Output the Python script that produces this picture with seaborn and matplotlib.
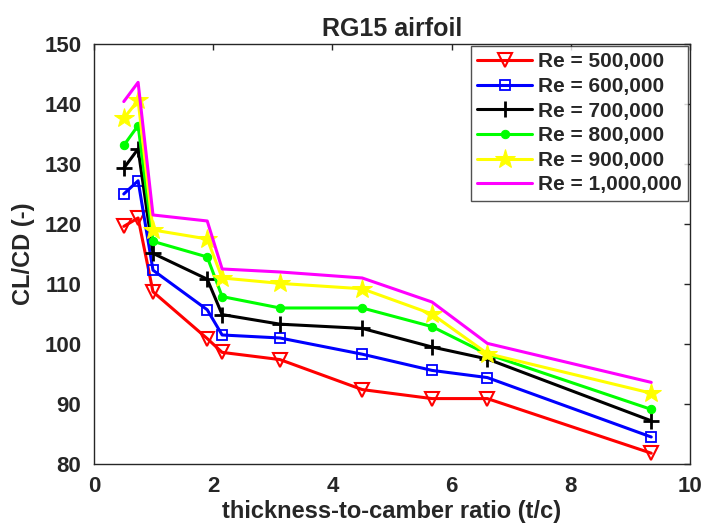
import pandas as pd
import seaborn as sns
import matplotlib.pyplot as plt

# thickness-to-camber ratio
tc = [0.5, 0.74, 0.99, 1.9, 2.15, 3.12, 4.5, 5.67, 6.6, 9.35]

# CL/CD por Reynolds
re_labels = ['Re = 500,000', 'Re = 600,000', 'Re = 700,000',
             'Re = 800,000', 'Re = 900,000', 'Re = 1,000,000']
re_500k = [119.6, 121.0, 108.7, 100.9, 98.6, 97.4, 92.4, 90.9, 90.9, 81.8]
re_600k = [125.0, 127.2, 112.3, 105.7, 101.5, 101.0, 98.3, 95.6, 94.4, 84.5]
re_700k = [129.3, 132.5, 115.1, 110.8, 104.9, 103.3, 102.6, 99.5, 97.5, 87.2]
re_800k = [133.1, 136.4, 117.1, 114.5, 107.9, 106.0, 106.0, 102.9, 98.3, 89.1]
re_900k = [137.6, 140.6, 119.0, 117.5, 111.0, 110.1, 109.2, 105.0, 98.4, 91.8]
re_1m = [140.4, 143.6, 121.5, 120.5, 112.5, 112.0, 111.0, 107.0, 100.1, 93.6]

series = [re_500k, re_600k, re_700k, re_800k, re_900k, re_1m]
cores = ['#ff0000', '#0000ff', '#000000', '#00ff00', '#ffff00', '#ff00ff']

rows = []
for lab, vals in zip(re_labels, series):
    for x, y in zip(tc, vals):
        rows.append({'tc': x, 'clcd': y, 'Re': lab})
df = pd.DataFrame(rows)

sns.set_style('white')
plt.rcParams['font.family'] = ['Liberation Sans', 'DejaVu Sans']
plt.rcParams['font.weight'] = 'bold'

fig = plt.figure(figsize=(7.03, 5.29), dpi=100)
ax = fig.add_axes([0.1337, 0.1229, 0.8478, 0.794])

estilos = [
    dict(marker='v', markersize=10, markerfacecolor='none', markeredgewidth=1.5),
    dict(marker='s', markersize=7, markerfacecolor='none', markeredgewidth=1.3),
    dict(marker='+', markersize=11, markeredgewidth=2),
    dict(marker='o', markersize=6),
    dict(marker='*', markersize=15),
    dict(marker=None),
]

for lab, cor, est in zip(re_labels, cores, estilos):
    sub = df[df['Re'] == lab]
    sns.lineplot(data=sub, x='tc', y='clcd', ax=ax, color=cor, linewidth=2.2,
                 label=lab, markeredgecolor=cor, **est)

ax.set_xlim(0, 10)
ax.set_ylim(80, 150)
ax.set_xticks([0, 2, 4, 6, 8, 10])
ax.set_yticks(range(80, 151, 10))
ax.tick_params(direction='in', labelsize=16, length=4, width=1, top=True, right=True,
               colors='#262626')
ax.tick_params(axis='x', pad=9)
ax.tick_params(axis='y', pad=9)
for lbl in ax.get_xticklabels() + ax.get_yticklabels():
    lbl.set_fontweight('bold')
for s in ax.spines.values():
    s.set_color('#262626')
    s.set_linewidth(1)

ax.set_title('RG15 airfoil', fontsize=18, fontweight='bold', pad=6, color='#262626')
ax.set_xlabel('thickness-to-camber ratio (t/c)', fontsize=17, fontweight='bold',
              labelpad=2, color='#262626')
ax.set_ylabel('CL/CD (-)', fontsize=17, fontweight='bold', labelpad=7, color='#262626')

leg = ax.legend(loc='upper right', fontsize=15, frameon=True, fancybox=False,
                edgecolor='#262626', borderaxespad=0.1, handlelength=2.6,
                handletextpad=0.3, labelspacing=0.27, borderpad=0.3)
leg.get_frame().set_linewidth(1)
for t in leg.get_texts():
    t.set_fontweight('bold')

plt.savefig('out.png', dpi=100)
